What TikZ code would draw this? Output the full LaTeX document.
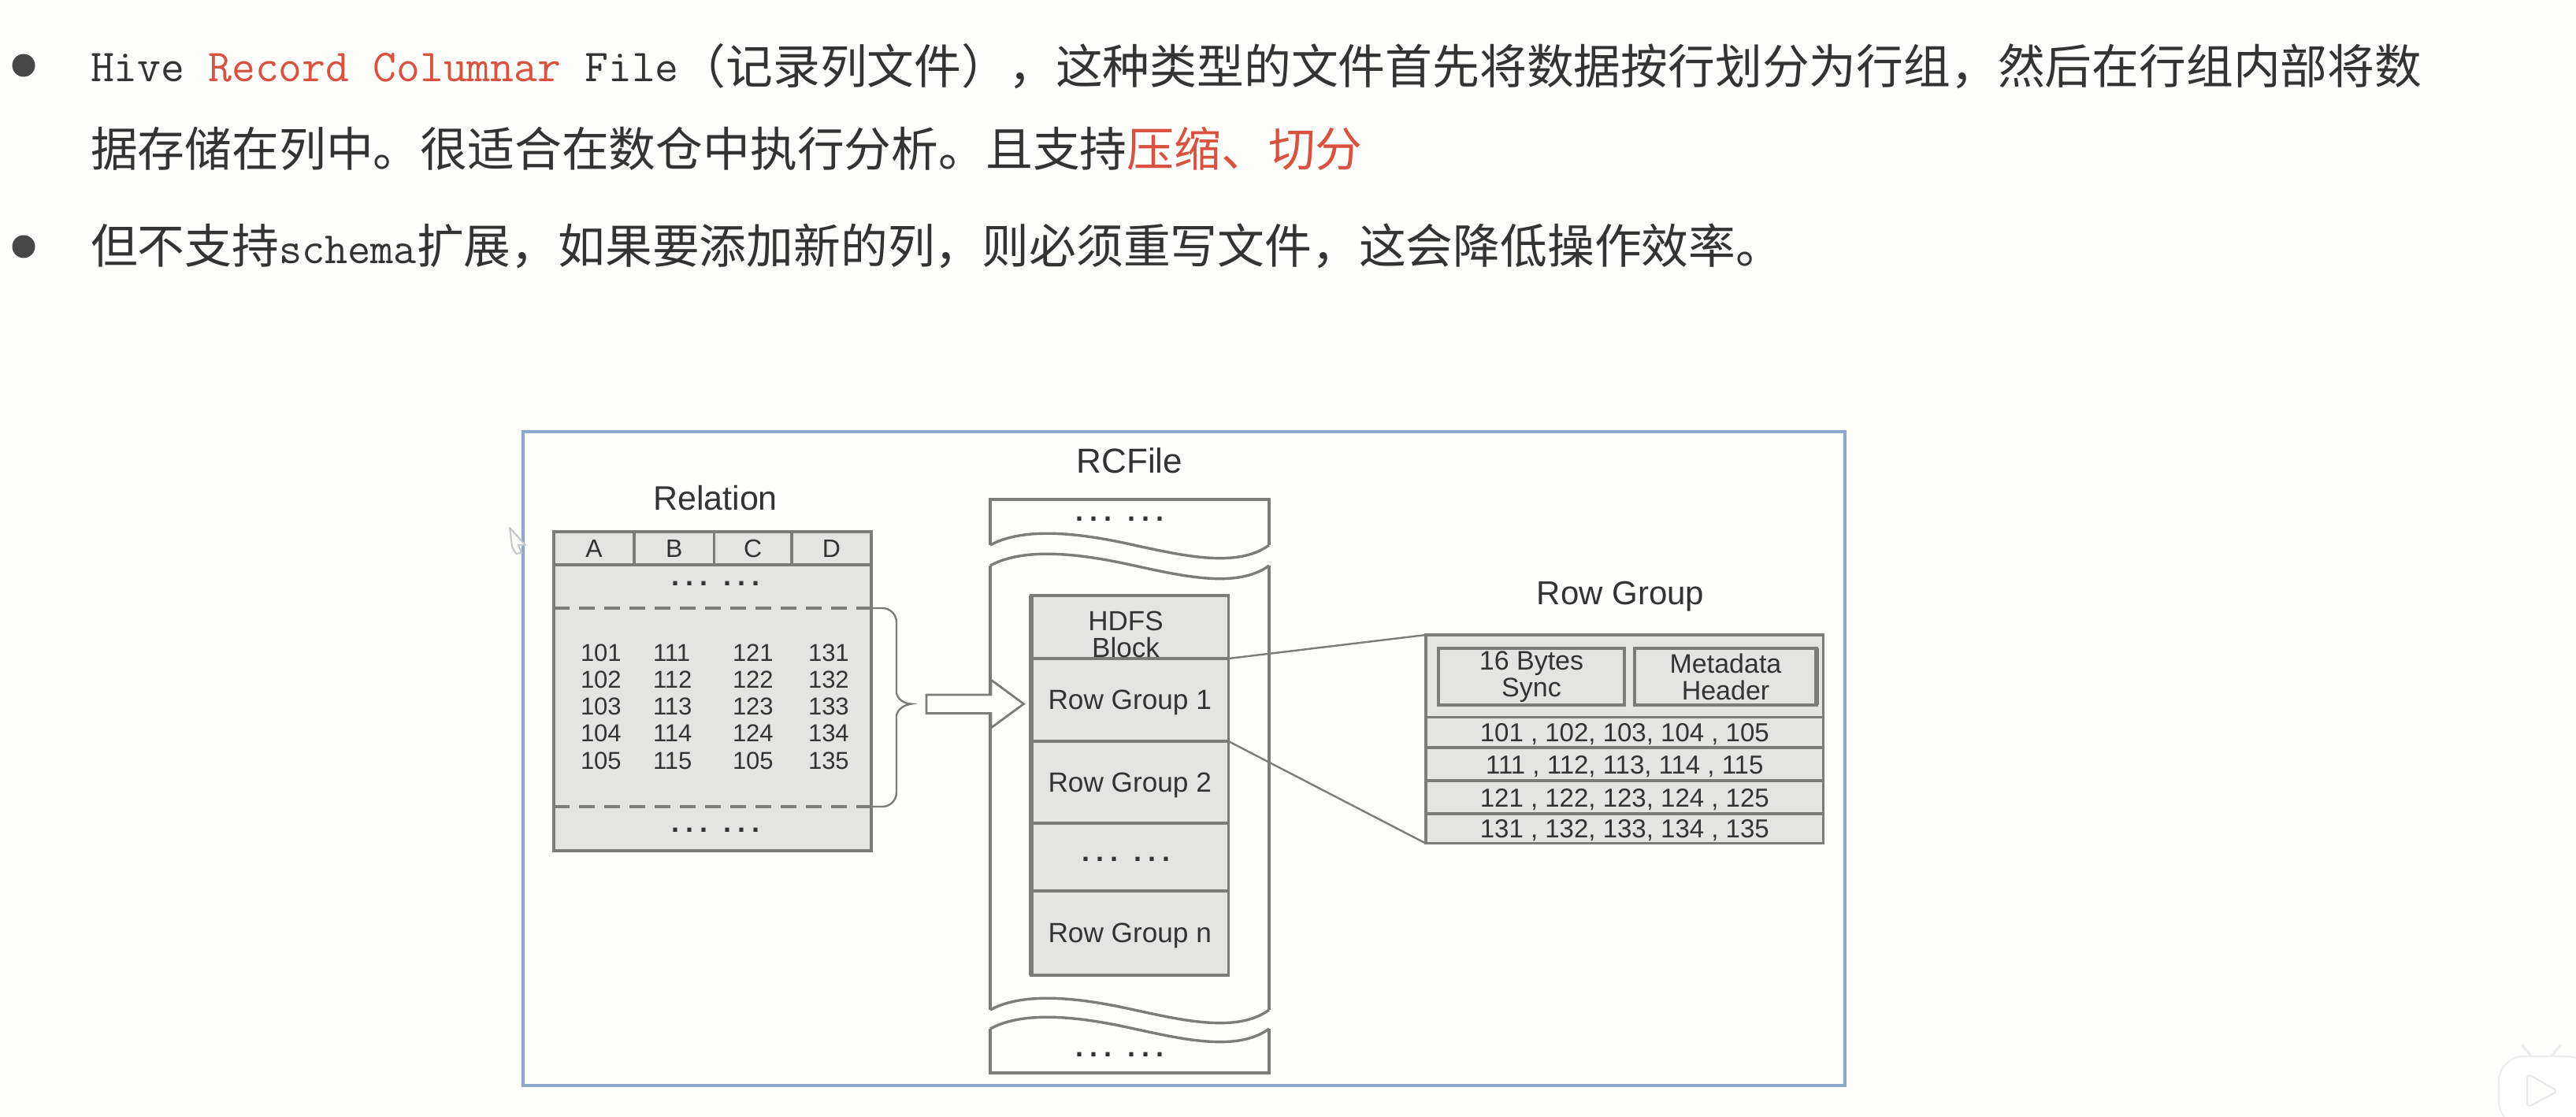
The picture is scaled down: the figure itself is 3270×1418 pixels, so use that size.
\documentclass[tikz,border=0pt]{standalone}
\usepackage{fontspec}
\setmainfont{Liberation Sans}
\newfontfamily\cjk{Noto Sans CJK SC}
\usetikzlibrary{positioning}
\definecolor{pagebg}{HTML}{FDFDFB}
\definecolor{boxgrey}{HTML}{E4E5E3}
\definecolor{boxline}{HTML}{7C7D7B}
\definecolor{framecol}{HTML}{8AA7CC}
\definecolor{inktext}{HTML}{333333}
\definecolor{redtext}{HTML}{D9523F}
\newcommand{\lat}[1]{{\fontsize{28.3}{36}\selectfont\ttfamily #1}}
\newcommand{\dotrow}{.\kern4pt.\kern4pt.\kern10pt.\kern4pt.\kern4pt.}
\newcommand{\wavecurve}[1]{(1257,#1) .. controls (1290,{#1-18}) and (1345,{#1-21}) .. (1435,{#1-1}) .. controls (1500,{#1+13}) and (1570,{#1+30}) .. (1611,#1)}

\begin{document}
\begin{tikzpicture}[x=0.5pt,y=-0.5pt,
  outer sep=0pt,
  linetext/.style={anchor=base west,inner sep=0pt,text=inktext,font=\fontsize{29.9}{36}\selectfont\cjk},
  bulletdot/.style={circle,fill=inktext!90,inner sep=0pt,minimum size=14.5pt},
  title/.style={inner sep=0pt,text=inktext,font=\fontsize{21.5}{24}\selectfont},
  cellbox/.style={draw=boxline,fill=boxgrey,line width=1.7pt,inner sep=0pt},
  numtext/.style={anchor=base west,inner sep=0pt,text=inktext,font=\fontsize{15.5}{17}\selectfont},
  celltext/.style={text=inktext,font=\fontsize{17.6}{17}\selectfont,text height=12pt,text depth=0pt,align=center},
  dotstext/.style={anchor=base,inner sep=0pt,text=inktext,font=\fontsize{18}{17}\selectfont\bfseries},
  waveline/.style={draw=boxline,line width=1.7pt},
  link/.style={draw=boxline,line width=1.2pt}]
  \useasboundingbox (0,0) rectangle (3270,1418);
  \fill[pagebg] (0,0) rectangle (3270,1418);

  % text lines at the top
  \node[bulletdot] (dot1) at (30,83) {};
  \node[bulletdot] (dot2) at (30,313) {};
  \node[linetext] (line1) at (115,106) {\raisebox{1.5pt}{\fontsize{29}{36}\selectfont\ttfamily Hive \textcolor{redtext}{Record Columnar} File}（记录列文件），这种类型的文件首先将数据按行划分为行组，然后在行组内部将数};
  \node[linetext] (line2) at (115,211) {据存储在列中。很适合在数仓中执行分析。且支持\textcolor{redtext}{压缩、切分}};
  \node[linetext] (line3) at (115,334) {但不支持\lat{schema}扩展，如果要添加新的列，则必须重写文件，这会降低操作效率。};

  \node[draw=framecol,line width=2pt,minimum width=839pt,minimum height=415pt] (frame) at (1503,963) {};

  % Relation
  \node[title] (reltitle) at (908,632) {Relation};
  \node[cellbox,minimum width=201.5pt,minimum height=202.5pt] (relbody) at (904.5,877.5) {};
  \foreach \name/\x/\w in {A/754/102,B/855.75/101.5,C/955.75/98.5,D/1055.5/101}
    \node[cellbox,celltext,minimum width=\w*0.5pt,minimum height=21pt,font=\fontsize{16}{17}\selectfont,text height=11.5pt] (col\name) at (\x,696) {\name};
  \node[dotstext] (reldots1) at (908,743) {\dotrow};
  \node[dotstext] (reldots2) at (908,1056) {\dotrow};
  \coordinate (dashl1) at (703,772);
  \coordinate (dashr1) at (1106,772);
  \coordinate (dashl2) at (703,1024);
  \coordinate (dashr2) at (1106,1024);
  \coordinate (bracetip) at (1157,893.6);
  \draw[boxline,line width=1.7pt,dash pattern=on 10pt off 6pt] (dashl1) -- (dashr1);
  \draw[boxline,line width=1.7pt,dash pattern=on 10pt off 6pt] (dashl2) -- (dashr2);
  \draw[boxline,line width=1.2pt,rounded corners=9pt] (dashr1) -- (1138,772) -- (1138,860);
  \draw[boxline,line width=1.2pt,rounded corners=9pt] (dashr2) -- (1138,1024) -- (1138,930);
  \draw[boxline,line width=1.2pt] (1138,860) -- (1138,880) .. controls (1140,888) and (1147,893) .. (bracetip)
    .. controls (1147,895) and (1140,900) .. (1138,908) -- (1138,930);
  \foreach \colx/\vals in {737/{101,102,103,104,105},829/{111,112,113,114,115},930/{121,122,123,124,105},1026/{131,132,133,134,135}}
    \foreach \v [count=\i] in \vals
      \node[numtext] (num\colx-\i) at (\colx,{839+34.3*(\i-1)}) {\v};

  % RCFile
  \node[title,font=\fontsize{22}{24}\selectfont] (rctitle) at (1434,585) {RCFile};
  \foreach \wy in {692,718,1282,1306}
    \draw[waveline] \wavecurve{\wy};
  \draw[waveline] (1257,692) -- (1257,634) -- (1611,634) -- (1611,692);
  \draw[waveline] (1257,718) -- (1257,1282);
  \draw[waveline] (1611,718) -- (1611,1282);
  \draw[waveline] (1257,1306) -- (1257,1362) -- (1611,1362) -- (1611,1306);
  \node[dotstext] (rcdots1) at (1421,661) {\dotrow};
  \node[dotstext] (rcdots2) at (1421,1341) {\dotrow};

  \draw[boxline,fill=pagebg,line width=1.4pt,line join=miter] (1176,882) -- (1258,882) -- (1258,863) -- (1299.5,893.6)
    -- (1258,924) -- (1258,905.5) -- (1176,905.5) -- cycle;

  \node[cellbox,minimum width=125.2pt,minimum height=40pt] (hdfs) at (1434.2,796) {};
  \node[cellbox,celltext,minimum width=125.2pt,minimum height=52.5pt,below=0pt of hdfs] (group1) {Row Group 1};
  \node[cellbox,celltext,minimum width=125.2pt,minimum height=52pt,below=0pt of group1] (group2) {Row Group 2};
  \node[cellbox,minimum width=125.2pt,minimum height=43pt,below=0pt of group2] (groupdots) {};
  \node[cellbox,celltext,minimum width=125.2pt,minimum height=53.5pt,below=0pt of groupdots] (groupn) {Row Group n};
  \node[inner sep=0pt,text=inktext,align=center,font=\fontsize{17.5}{17}\selectfont] (hdfstext) at (1429,805) {HDFS\\Block};
  \node[dotstext] (rowdots) at (1429,1093) {\dotrow};
  \draw[boxline,line width=3pt] (hdfs.north west) -- (groupn.south west);

  % Row Group
  \node[title,font=\fontsize{21}{24}\selectfont] (rgtitle) at (2057,757) {Row Group};
  \node[cellbox,minimum width=252.3pt,minimum height=52.35pt] (rgtop) at (2062.3,858.35) {};
  \foreach \i/\prev/\h/\txt in {1/rgtop/19.15/{101 , 102, 103, 104 , 105},
                               2/rgrow1/21/{111 , 112, 113, 114 , 115},
                               3/rgrow2/21/{121 , 122, 123, 124 , 125},
                               4/rgrow3/18.85/{131 , 132, 133, 134 , 135}}
    \node[cellbox,celltext,minimum width=252.3pt,minimum height=\h pt,font=\fontsize{16.5}{17}\selectfont,below=0pt of \prev] (rgrow\i) {\txt};
  \node[cellbox,align=center,text=inktext,font=\fontsize{17}{17}\selectfont,minimum width=118pt,minimum height=36pt] (sync) at (1944,859) {16 Bytes\\Sync};
  \node[cellbox,align=center,text=inktext,font=\fontsize{17}{17}\selectfont,minimum width=115.5pt,minimum height=36pt] (meta) at (2190.5,859) {Metadata\\Header};
  \draw[boxline,line width=3pt] (meta.north east) -- (meta.south east);

  \draw[link] (hdfs.south east) -- (rgtop.north west);
  \draw[link] (group1.south east) -- (rgrow4.south west);

  % pointer and player mark
  \draw[black!22,fill=pagebg,line width=1pt,line join=round] (647,670) -- (667,692) -- (658,692) -- (662,702) -- (655,703) -- (650,694) -- cycle;
  \draw[black!7,fill=white,line width=1.5pt,line cap=round] (3202,1327) -- (3216,1345);
  \draw[black!7,fill=white,line width=1.5pt,line cap=round] (3250,1327) -- (3236,1345);
  \draw[black!7,fill=white,line width=1pt,rounded corners=16pt] (3172,1430) -- (3172,1341) -- (3290,1341) -- (3290,1430) -- cycle;
  \draw[black!9,fill=pagebg,line width=1pt,line join=round,rounded corners=3pt] (3208,1363) -- (3247,1385) -- (3208,1406) -- cycle;
\end{tikzpicture}
\end{document}
